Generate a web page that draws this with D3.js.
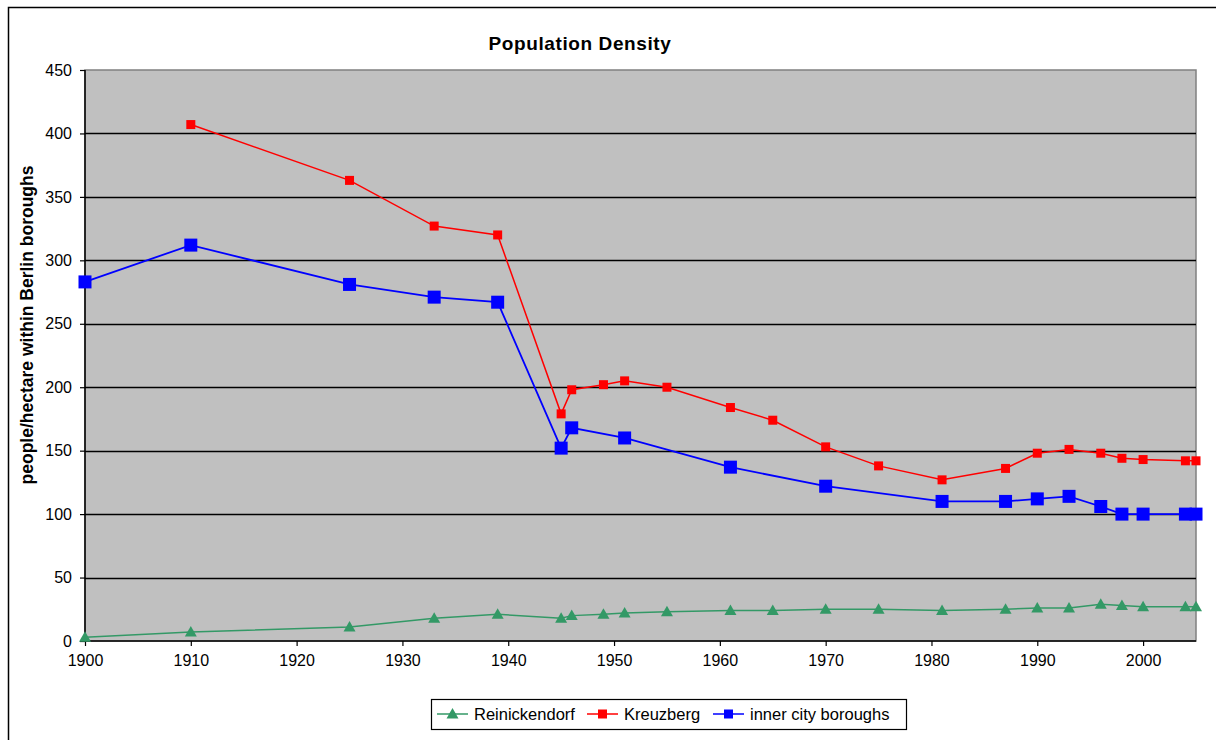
<!DOCTYPE html>
<html lang="en">
<head>
<meta charset="utf-8">
<title>Population Density</title>
<script src="https://d3js.org/d3.v7.min.js"></script>
<style>
  body { margin: 0; background: #fff; }
  svg { display: block; font-family: "Liberation Sans", Arial, sans-serif; }
  .tick text { font-size: 16px; fill: #000; }
  .legend text { font-size: 16.5px; }
</style>
</head>
<body>
<script>
// data
var reinYears = [1900, 1910, 1925, 1933, 1939, 1945, 1946, 1949, 1951, 1955, 1961, 1965, 1970, 1975, 1981, 1987, 1990, 1993, 1996, 1998, 2000, 2004, 2005];
var reinValues = [3, 7, 11, 18, 21, 18, 20, 21, 22, 23, 24, 24, 25, 25, 24, 25, 26, 26, 29, 28, 27, 27, 27];

var kreuzYears = [1910, 1925, 1933, 1939, 1945, 1946, 1949, 1951, 1955, 1961, 1965, 1970, 1975, 1981, 1987, 1990, 1993, 1996, 1998, 2000, 2004, 2005];
var kreuzValues = [407, 363, 327, 320, 179, 198, 202, 205, 200, 184, 174, 153, 138, 127, 136, 148, 151, 148, 144, 143, 142, 142];

var innerYears = [1900, 1910, 1925, 1933, 1939, 1945, 1946, 1951, 1961, 1970, 1981, 1987, 1990, 1993, 1996, 1998, 2000, 2004, 2005];
var innerValues = [283, 312, 281, 271, 267, 152, 168, 160, 137, 122, 110, 110, 112, 114, 106, 100, 100, 100, 100];

var xTicks = [1900, 1910, 1920, 1930, 1940, 1950, 1960, 1970, 1980, 1990, 2000];
var yTicks = [0, 50, 100, 150, 200, 250, 300, 350, 400, 450];

var series = [
  { name: "Reinickendorf", years: reinYears, values: reinValues, color: "#339966", marker: "triangle" },
  { name: "Kreuzberg", years: kreuzYears, values: kreuzValues, color: "#ff0000", marker: "small" },
  { name: "inner city boroughs", years: innerYears, values: innerValues, color: "#0000ff", marker: "big" }
];

var width = 1216, height = 740;
var plot = { left: 85, right: 1196, top: 70, bottom: 641 };

var svg = d3.select("body").append("svg")
    .attr("width", width)
    .attr("height", height);

// outer chart frame (runs off the right/bottom edges)
svg.append("rect")
    .attr("x", 8.5).attr("y", 7.5)
    .attr("width", width + 10).attr("height", height + 10)
    .attr("fill", "#fff")
    .attr("stroke", "#000")
    .attr("stroke-width", 1.5);

var x = d3.scaleLinear().domain([1900, 2005]).range([plot.left, plot.right]);
var y = d3.scaleLinear().domain([0, 450]).range([plot.bottom, plot.top]);

// plot area
svg.append("rect")
    .attr("x", plot.left).attr("y", plot.top)
    .attr("width", plot.right - plot.left).attr("height", plot.bottom - plot.top)
    .attr("fill", "#c0c0c0")
    .attr("stroke", "#808080")
    .attr("stroke-width", 1.5);

// gridlines
svg.append("g")
  .selectAll("line")
    .data(yTicks.filter(function(d) { return d > 0 && d < 450; }))
  .enter().append("line")
    .attr("x1", plot.left).attr("x2", plot.right)
    .attr("y1", function(d) { return Math.round(y(d)) + 0.5; })
    .attr("y2", function(d) { return Math.round(y(d)) + 0.5; })
    .attr("stroke", "#000")
    .attr("stroke-width", 1.3);

// axes
var yAxis = svg.append("g")
    .attr("transform", "translate(" + plot.left + ",0)")
    .call(d3.axisLeft(y).tickValues(yTicks).tickSize(5).tickPadding(8));
var xAxis = svg.append("g")
    .attr("transform", "translate(0," + plot.bottom + ")")
    .call(d3.axisBottom(x).tickValues(xTicks).tickFormat(d3.format("d")).tickSize(5).tickPadding(9));
[yAxis, xAxis].forEach(function(a) {
  a.select(".domain").attr("stroke", "#000").attr("stroke-width", 1.5);
  a.selectAll(".tick line").attr("stroke", "#000").attr("stroke-width", 1.2);
  a.selectAll(".tick text").style("font-family", "'Liberation Sans', Arial, sans-serif");
});
xAxis.select(".domain").attr("d", "M" + plot.left + ",0H" + plot.right);
yAxis.select(".domain").attr("d", "M0," + plot.bottom + "V" + plot.top);

// title and axis label
svg.append("text")
    .attr("x", 580).attr("y", 50)
    .attr("text-anchor", "middle")
    .attr("font-size", 19).attr("font-weight", "bold")
    .attr("letter-spacing", 0.6)
    .text("Population Density");

svg.append("text")
    .attr("transform", "translate(33,325) rotate(-90)")
    .attr("text-anchor", "middle")
    .attr("font-size", 17.5).attr("font-weight", "bold")
    .text("people/hectare within Berlin boroughs");

function drawMarker(g, type, color) {
  if (type === "triangle") {
    g.append("path").attr("d", "M0,-6L6,4.5L-6,4.5Z").attr("fill", color);
  } else if (type === "small") {
    g.append("rect").attr("x", -4.5).attr("y", -4.5).attr("width", 9).attr("height", 9).attr("fill", color);
  } else {
    g.append("rect").attr("x", -6.5).attr("y", -6.5).attr("width", 13).attr("height", 13).attr("fill", color);
  }
}

var line = d3.line()
    .x(function(d) { return x(d[0]); })
    .y(function(d) { return y(d[1]); });

series.forEach(function(s) {
  var pts = s.years.map(function(yr, i) { return [yr, s.values[i]]; });
  var g = svg.append("g");
  g.append("path")
      .datum(pts)
      .attr("d", line)
      .attr("fill", "none")
      .attr("stroke", s.color)
      .attr("stroke-width", s.marker === "big" ? 1.8 : 1.5);
  g.selectAll("g.pt")
      .data(pts)
    .enter().append("g")
      .attr("class", "pt")
      .attr("transform", function(d) { return "translate(" + x(d[0]) + "," + y(d[1]) + ")"; })
      .each(function() { drawMarker(d3.select(this), s.marker, s.color); });
});

// legend
var legend = svg.append("g").attr("class", "legend");
legend.append("rect")
    .attr("x", 431.5).attr("y", 699.5)
    .attr("width", 475).attr("height", 30)
    .attr("fill", "#fff")
    .attr("stroke", "#000")
    .attr("stroke-width", 1.2);

var legendX = [437, 587, 713];
series.forEach(function(s, i) {
  var lg = legend.append("g").attr("transform", "translate(" + legendX[i] + ",714)");
  lg.append("line").attr("x1", 0).attr("x2", 31)
      .attr("stroke", s.color).attr("stroke-width", 1.5);
  drawMarker(lg.append("g").attr("transform", "translate(15.5,0)"), s.marker === "big" ? "small" : s.marker, s.color);
  lg.append("text").attr("x", 37).attr("y", 6).text(s.name);
});
</script>
</body>
</html>
